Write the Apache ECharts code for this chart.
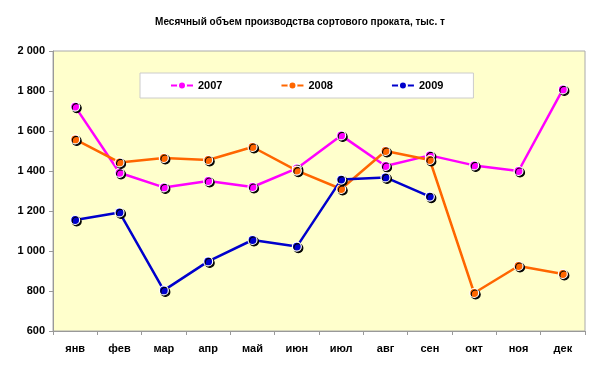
<!DOCTYPE html>
<html><head><meta charset="utf-8">
<script src="https://cdn.jsdelivr.net/npm/echarts@6/dist/echarts.min.js"></script>
<style>html,body{margin:0;padding:0;background:#fff}#c{width:600px;height:369px}</style>
</head><body><div id="c"></div>
<script>
const categories = ['янв','фев','мар','апр','май','июн','июл','авг','сен','окт','ноя','дек'];
const s2007 = [1722, 1391, 1318, 1350, 1320, 1413, 1578, 1425, 1478, 1428, 1400, 1808];
const s2008 = [1558, 1443, 1465, 1455, 1520, 1402, 1310, 1500, 1455, 790, 925, 885];
const s2009 = [1155, 1193, 803, 948, 1055, 1022, 1357, 1368, 1272];
const seriesNames = ['2007','2008','2009'];
const colors = ['#ff00ff','#ff6600','#0000cc'];

const chart = echarts.init(document.getElementById('c'));
const fmt = v => { const s = String(v); return s.length > 3 ? s.slice(0, s.length-3) + ' ' + s.slice(-3) : s; };
const mk = (name, data, color) => ({
  name, type: 'line', data, symbol: 'circle', symbolSize: 9,
  lineStyle: { color, width: 2.5 },
  itemStyle: { color, borderColor: '#fff', borderWidth: 1.2, shadowColor: '#000', shadowOffsetX: 1.5, shadowOffsetY: 1.5, shadowBlur: 0 },
  emphasis: { disabled: true }, animation: false
});
chart.setOption({
  animation: false,
  backgroundColor: '#fff',
  title: { text: 'Месячный объем производства сортового проката, тыс. т', left: 'center', top: 12,
    textStyle: { fontFamily: 'Liberation Sans, Arial', fontSize: 10, fontWeight: 'bold', color: '#000' } },
  legend: { data: seriesNames, left: 140, top: 73, padding: [7, 30, 7, 30], itemGap: 58, itemWidth: 22, itemHeight: 10,
    backgroundColor: '#fff', borderColor: '#ccc', borderWidth: 1,
    textStyle: { fontFamily: 'Liberation Sans, Arial', fontSize: 11, fontWeight: 'bold', color: '#000' } },
  grid: { left: 53, right: 15, top: 51, bottom: 38, show: true, backgroundColor: '#ffffcc', borderColor: '#aaa', borderWidth: 1 },
  xAxis: { type: 'category', data: categories, boundaryGap: true,
    axisLine: { lineStyle: { color: '#999' } }, axisTick: { show: true, length: 4, lineStyle: { color: '#999' } },
    axisLabel: { margin: 12, fontFamily: 'Liberation Sans, Arial', fontSize: 11, fontWeight: 'bold', color: '#000' } },
  yAxis: { type: 'value', min: 600, max: 2000, interval: 200,
    axisLine: { show: true, lineStyle: { color: '#999' } }, axisTick: { show: true, length: 4, lineStyle: { color: '#999' } },
    splitLine: { show: false },
    axisLabel: { margin: 8, formatter: fmt, fontFamily: 'Liberation Sans, Arial', fontSize: 11, fontWeight: 'bold', color: '#000' } },
  series: [mk(seriesNames[0], s2007, colors[0]), mk(seriesNames[1], s2008, colors[1]), mk(seriesNames[2], s2009, colors[2])]
});
</script></body></html>
